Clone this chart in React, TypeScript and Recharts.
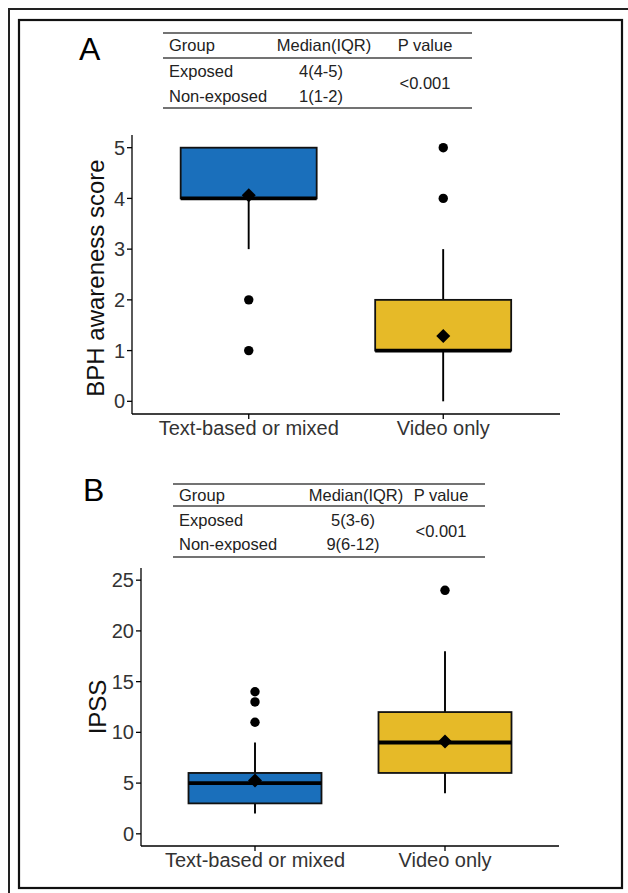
import React from 'react';
import { ComposedChart, Bar, Scatter, XAxis, YAxis } from 'recharts';

// ---------- data ----------
const groups = ['Text-based or mixed', 'Video only'];
const boxColors = ['#1a6fbb', '#e6ba28'];

// Panel A: BPH awareness score
const awareLow = [3, 0];
const awareQ1 = [4, 1];
const awareMedian = [4, 1];
const awareQ3 = [5, 2];
const awareHigh = [5, 3];
const awareMean = [4.06, 1.29];
const awareOutliers = [
  { group: 'Text-based or mixed', value: 2 },
  { group: 'Text-based or mixed', value: 1 },
  { group: 'Video only', value: 5 },
  { group: 'Video only', value: 4 },
];
const awareTicks = [0, 1, 2, 3, 4, 5];

// Panel B: IPSS
const ipssLow = [2, 4];
const ipssQ1 = [3, 6];
const ipssMedian = [5, 9];
const ipssQ3 = [6, 12];
const ipssHigh = [9, 18];
const ipssMean = [5.25, 9.1];
const ipssOutliers = [
  { group: 'Text-based or mixed', value: 14 },
  { group: 'Text-based or mixed', value: 13 },
  { group: 'Text-based or mixed', value: 11 },
  { group: 'Video only', value: 24 },
];
const ipssTicks = [0, 5, 10, 15, 20, 25];

// Summary tables
const tableHeader = ['Group', 'Median(IQR)', 'P value'];
const tableGroups = ['Exposed', 'Non-exposed'];
const awareTableMedians = ['4(4-5)', '1(1-2)'];
const ipssTableMedians = ['5(3-6)', '9(6-12)'];
const pValue = '<0.001';

const FONT = '"Liberation Sans", Arial, Helvetica, sans-serif';

const makeBoxes = (low, q1, med, q3, high) =>
  groups.map((g, i) => ({
    group: g,
    low: low[i],
    q1: q1[i],
    median: med[i],
    q3: q3[i],
    high: high[i],
    color: boxColors[i],
  }));

const makeMeans = (means) => groups.map((g, i) => ({ group: g, value: means[i] }));

const BoxShape = (props: any) => {
  const { x, y, width, height, payload } = props;
  if (x == null || y == null || !payload) return null;
  const top = Math.min(y, y + height);
  const bottom = Math.max(y, y + height);
  const span = payload.high - payload.low;
  const per = span > 0 ? (bottom - top) / span : 0;
  const yOf = (v: number) => bottom - (v - payload.low) * per;
  const cx = x + width / 2;
  const yQ1 = yOf(payload.q1);
  const yQ3 = yOf(payload.q3);
  const yMed = yOf(payload.median);
  return (
    <g>
      <line x1={cx} x2={cx} y1={top} y2={yQ3} stroke="#000" strokeWidth={1.9} />
      <line x1={cx} x2={cx} y1={yQ1} y2={bottom} stroke="#000" strokeWidth={1.9} />
      <rect x={x} y={yQ3} width={width} height={Math.max(yQ1 - yQ3, 0)} fill={payload.color} stroke="#111" strokeWidth={1.8} />
      <line x1={x} x2={x + width} y1={yMed} y2={yMed} stroke="#000" strokeWidth={3.8} />
    </g>
  );
};

const Dot = (props: any) => {
  const { cx, cy } = props;
  if (cx == null || cy == null) return null;
  return <circle cx={cx} cy={cy} r={4.7} fill="#000" />;
};

const Diamond = (props: any) => {
  const { cx, cy } = props;
  if (cx == null || cy == null) return null;
  const s = 7;
  return <polygon points={`${cx},${cy - s} ${cx + s},${cy} ${cx},${cy + s} ${cx - s},${cy}`} fill="#000" />;
};

const tickStyle = { fill: '#333', fontSize: 20, fontFamily: FONT };

const BoxPanel = ({ boxes, means, outliers, domain, ticks, margin, width, height, pad }) => (
  <ComposedChart width={width} height={height} data={boxes} margin={margin} barCategoryGap="15%">
    <XAxis
      dataKey="group"
      type="category"
      allowDuplicatedCategory={false}
      padding={{ left: pad, right: pad }}
      tick={tickStyle}
      tickSize={5}
      axisLine={{ stroke: '#000', strokeWidth: 1.3 }}
      tickLine={{ stroke: '#000', strokeWidth: 1.3 }}
      height={30}
      interval={0}
    />
    <YAxis
      type="number"
      domain={domain}
      ticks={ticks}
      allowDataOverflow
      tick={tickStyle}
      tickSize={5}
      axisLine={{ stroke: '#000', strokeWidth: 1.3 }}
      tickLine={{ stroke: '#000', strokeWidth: 1.3 }}
      width={50}
    />
    <Bar dataKey={(d: any) => [d.low, d.high]} shape={<BoxShape />} isAnimationActive={false} />
    <Scatter data={outliers} dataKey="value" shape={<Dot />} isAnimationActive={false} />
    <Scatter data={means} dataKey="value" shape={<Diamond />} isAnimationActive={false} />
  </ComposedChart>
);

const SummaryTable = ({ label, labelX, labelY, x1, x2, lines, headerY, rowY, pY, colGroup, colMed, colP, medians }) => {
  const ts = { fontFamily: FONT, fontSize: 16.5, fill: '#222' };
  return (
    <g>
      <text x={labelX} y={labelY} style={{ fontFamily: FONT, fontSize: 32, fill: '#000' }}>{label}</text>
      {lines.map((ly, i) => (
        <line key={i} x1={x1} x2={x2} y1={ly} y2={ly} stroke="#444" strokeWidth={1.3} />
      ))}
      <text x={colGroup} y={headerY} style={ts}>{tableHeader[0]}</text>
      <text x={colMed} y={headerY} textAnchor="middle" style={ts}>{tableHeader[1]}</text>
      <text x={colP} y={headerY} textAnchor="middle" style={ts}>{tableHeader[2]}</text>
      {tableGroups.map((g, i) => (
        <g key={g}>
          <text x={colGroup} y={rowY[i]} style={ts}>{g}</text>
          <text x={colMed - 3} y={rowY[i]} textAnchor="middle" style={ts}>{medians[i]}</text>
        </g>
      ))}
      <text x={colP} y={pY} textAnchor="middle" style={ts}>{pValue}</text>
    </g>
  );
};

export default function App() {
  const boxesA = makeBoxes(awareLow, awareQ1, awareMedian, awareQ3, awareHigh);
  const boxesB = makeBoxes(ipssLow, ipssQ1, ipssMedian, ipssQ3, ipssHigh);
  const titleStyle = { fontFamily: FONT, fontSize: 24, fill: '#111' };
  return (
    <div style={{ position: 'absolute', left: 0, top: 0, width: 628, height: 893, background: '#fff', overflow: 'hidden' }}>
      <svg width={628} height={893} style={{ position: 'absolute', left: 0, top: 0 }}>
        <polyline points="9,893 9,9 628,9" fill="none" stroke="#222" strokeWidth={2} />
        <rect x={19} y={20} width={603} height={868} fill="none" stroke="#111" strokeWidth={2.2} />
      </svg>
      <div style={{ position: 'absolute', left: 0, top: 0 }}>
        <BoxPanel
          boxes={boxesA}
          means={makeMeans(awareMean)}
          outliers={awareOutliers}
          domain={[-0.25, 5.25]}
          ticks={awareTicks}
          width={628}
          height={450}
          margin={{ top: 135, right: 68, left: 82, bottom: 6 }}
          pad={19.5}
        />
      </div>
      <div style={{ position: 'absolute', left: 0, top: 450 }}>
        <BoxPanel
          boxes={boxesB}
          means={makeMeans(ipssMean)}
          outliers={ipssOutliers}
          domain={[-1.2, 26.2]}
          ticks={ipssTicks}
          width={628}
          height={443}
          margin={{ top: 118, right: 69, left: 91, bottom: 17 }}
          pad={19}
        />
      </div>
      <svg width={628} height={893} style={{ position: 'absolute', left: 0, top: 0, pointerEvents: 'none' }}>
        <SummaryTable
          label="A" labelX={79} labelY={60}
          x1={163} x2={472} lines={[33, 58, 108]}
          headerY={51} rowY={[77, 102]} pY={89}
          colGroup={169} colMed={324} colP={425}
          medians={awareTableMedians}
        />
        <SummaryTable
          label="B" labelX={83} labelY={501}
          x1={173} x2={485} lines={[484, 506, 557]}
          headerY={501} rowY={[526, 550]} pY={537}
          colGroup={179} colMed={356} colP={441}
          medians={ipssTableMedians}
        />
        <text x={95} y={278} textAnchor="middle" dominantBaseline="central" transform="rotate(-90 95 278)" style={titleStyle}>BPH awareness score</text>
        <text x={97} y={707} textAnchor="middle" dominantBaseline="central" transform="rotate(-90 97 707)" style={titleStyle}>IPSS</text>
      </svg>
    </div>
  );
}
